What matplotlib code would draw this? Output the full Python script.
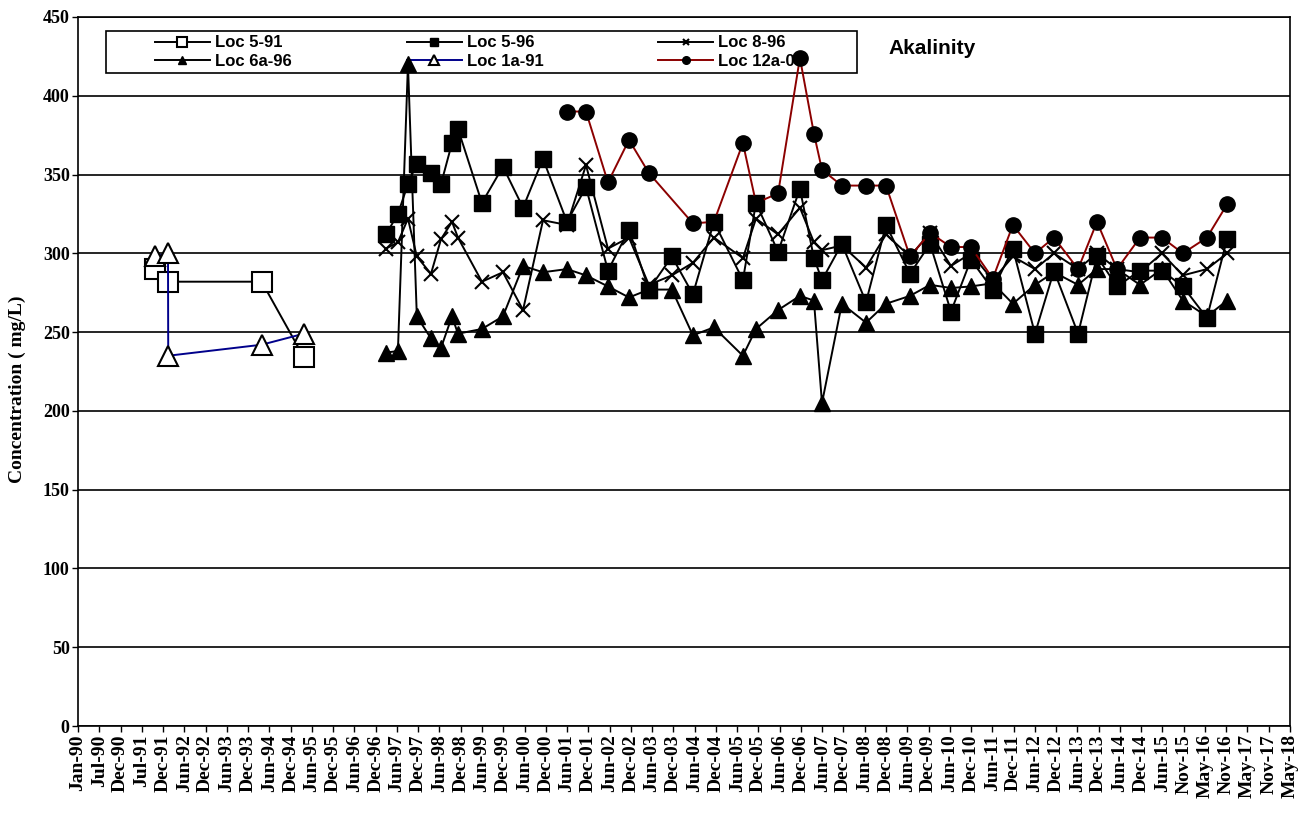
import numpy as np
import pandas as pd
import matplotlib
matplotlib.use("Agg")
import matplotlib.pyplot as plt
import matplotlib.dates as mdates
from matplotlib.patches import Rectangle

# sampling dates
d91 = ['1991-10-20', '1992-02-10', '1994-04-22', '1995-04-18']
d1a = ['1991-10-20', '1992-02-10', '1992-02-12', '1994-04-22', '1995-04-18']
d96 = ['1997-03-21', '1997-07-01', '1997-09-25', '1997-12-10',
       '1998-04-10', '1998-07-05', '1998-10-07', '1998-11-27',
       '1999-06-20', '1999-12-17', '2000-06-06', '2000-11-24',
       '2001-06-17', '2001-11-27', '2002-06-03', '2002-11-30',
       '2003-05-19', '2003-12-02', '2004-05-30', '2004-11-26',
       '2005-08-01', '2005-11-21', '2006-05-29', '2006-12-02',
       '2007-04-01', '2007-06-09', '2007-11-26', '2008-06-20',
       '2008-12-08', '2009-07-01', '2009-12-20', '2010-06-17',
       '2010-12-05', '2011-06-10', '2011-11-29', '2012-06-05',
       '2012-11-15', '2013-06-09', '2013-11-18', '2014-05-08',
       '2014-11-21', '2015-05-28', '2015-11-23', '2016-06-16',
       '2016-12-05']
d12 = ['2001-06-17', '2001-11-27', '2002-06-03', '2002-11-30',
       '2003-05-19', '2004-05-30', '2004-11-26',
       '2005-08-01', '2005-11-21', '2006-05-29', '2006-12-02',
       '2007-04-01', '2007-06-09', '2007-11-26', '2008-06-20',
       '2008-12-08', '2009-07-01', '2009-12-20', '2010-06-17',
       '2010-12-05', '2011-06-10', '2011-11-29', '2012-06-05',
       '2012-11-15', '2013-06-09', '2013-11-18', '2014-05-08',
       '2014-11-21', '2015-05-28', '2015-11-23', '2016-06-16',
       '2016-12-05']

# alkalinity values (mg/L)
loc5_91 = [290, 282, 282, 234]
loc1a_91 = [298, 300, 235, 242, 249]
loc5_96 = [312, 325, 344, 357, 351, 344, 370, 379, 332, 355, 329, 360,
           320, 342, 289, 315, 277, 298, 274, 320, 283, 332, 301, 341,
           297, 283, 306, 269, 318, 287, 306, 263, 296, 277, 303, 249,
           289, 249, 298, 279, 289, 289, 279, 259, 309]
loc8_96 = [303, 307, 322, 298, 287, 309, 320, 310, 282, 288, 264, 321,
           318, 356, 303, 310, 280, 286, 294, 310, 297, 322, 312, 329,
           307, 302, 305, 291, 312, 298, 313, 292, 300, 283, 298, 290,
           300, 290, 300, 290, 288, 300, 286, 290, 300]
loc6a_96 = [237, 238, 420, 260, 246, 240, 260, 249, 252, 260, 292, 288,
            290, 286, 279, 272, 277, 277, 248, 253, 235, 252, 264, 273,
            270, 205, 268, 256, 268, 273, 280, 278, 279, 281, 268, 280,
            288, 280, 290, 290, 280, 290, 270, 260, 270]
loc12a_00 = [390, 390, 345, 372, 351, 319, 320, 370, 332, 338, 424, 376,
             353, 343, 343, 343, 298, 313, 304, 304, 284, 318, 300, 310,
             290, 320, 290, 310, 310, 300, 310, 331]

serif = 'Liberation Serif'
sans = 'Liberation Sans'

fig = plt.figure(figsize=(13.05, 8.21), dpi=100)
ax = fig.add_axes([0.0598, 0.1157, 0.9287, 0.8636])

lw = 1.4
h1, = ax.plot(pd.to_datetime(d91), loc5_91, color='black', lw=lw, marker='s',
              ms=14, mfc='white', mec='black', mew=1.5, label='Loc 5-91')
h2, = ax.plot(pd.to_datetime(d96), loc5_96, color='black', lw=lw, marker='s',
              ms=12, mfc='black', mec='black', label='Loc 5-96')
h3, = ax.plot(pd.to_datetime(d96), loc8_96, color='black', lw=lw, marker='x',
              ms=10, mew=1.5, label='Loc 8-96')
h4, = ax.plot(pd.to_datetime(d96), loc6a_96, color='black', lw=lw, marker='^',
              ms=11, mfc='black', mec='black', label='Loc 6a-96')
h5, = ax.plot(pd.to_datetime(d1a), loc1a_91, color='#00008B', lw=lw, marker='^',
              ms=15, mfc='white', mec='black', mew=1.5, label='Loc 1a-91')
h6, = ax.plot(pd.to_datetime(d12), loc12a_00, color='#8B0000', lw=lw, marker='o',
              ms=11, mfc='black', mec='black', label='Loc 12a-00')

start = pd.Timestamp('1990-01-01')
ticks = [start + pd.Timedelta(days=182 * k) for k in range(58)]
ax.set_xlim(ticks[0], ticks[-1])
ax.set_xticks(ticks)
ax.xaxis.set_major_formatter(mdates.DateFormatter('%b-%y'))
plt.setp(ax.get_xticklabels(), rotation=90, fontfamily=serif,
         fontweight='bold', fontsize=14)

ax.set_ylim(0, 450)
ax.set_yticks(np.arange(0, 451, 50))
plt.setp(ax.get_yticklabels(), fontfamily=serif, fontweight='bold', fontsize=13)
ax.yaxis.grid(True, color='black', lw=1.2)
ax.set_axisbelow(True)
ax.tick_params(axis='both', direction='out', length=4, width=1, pad=2)
for s in ax.spines.values():
    s.set_linewidth(1.2)

ax.set_ylabel('Concentration ( mg/L)', fontfamily=serif, fontweight='bold',
              fontsize=14)
ax.yaxis.set_label_coords(-0.043, 0.475)

# legend frame drawn separately so the entries can sit inside it like the original
ax.add_patch(Rectangle((0.023, 0.921), 0.62, 0.059, transform=ax.transAxes,
                       facecolor='white', edgecolor='black', lw=1.2, zorder=1))
leg = ax.legend([h1, h4, h2, h5, h3, h6],
                ['Loc 5-91', 'Loc 6a-96', 'Loc 5-96', 'Loc 1a-91', 'Loc 8-96', 'Loc 12a-00'],
                ncol=3, loc='center left', bbox_to_anchor=(0.0635, 0.9505),
                borderaxespad=0, frameon=False, columnspacing=6.9,
                markerscale=0.5, handlelength=3.3, handletextpad=0.3,
                labelspacing=0.2, borderpad=0.0,
                prop={'family': sans, 'weight': 'bold', 'size': 12})
leg.set_zorder(1.5)

ax.text(0.669, 0.955, 'Akalinity', transform=ax.transAxes, fontfamily=sans,
        fontweight='bold', fontsize=15, ha='left', va='center')

fig.savefig('out.png', dpi=100)
